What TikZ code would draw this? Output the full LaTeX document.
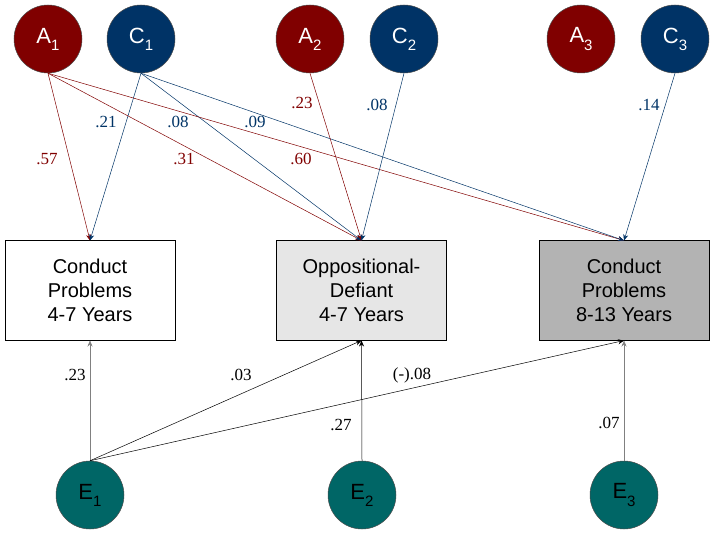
\documentclass[tikz,border=0pt]{standalone}
\usepackage{fontspec}
\setmainfont{Liberation Sans}
\newfontfamily\labfont{Liberation Serif}
\usetikzlibrary{arrows.meta}
\definecolor{ared}{HTML}{800000}
\definecolor{cblue}{HTML}{003366}
\definecolor{eteal}{HTML}{006666}
\definecolor{lgray}{HTML}{E6E6E6}
\definecolor{dgray}{HTML}{B3B3B3}
\newcommand{\subn}[1]{\raisebox{-0.32em}{\fontsize{15}{15}\selectfont #1}}
\begin{document}
\begin{tikzpicture}[x=1pt,y=-1pt,
  latent/.style={circle,draw=black!70,line width=0.5pt,minimum size=68pt,inner sep=0pt,font=\fontsize{22}{22}\selectfont},
  afac/.style={latent,fill=ared,text=white},
  cfac/.style={latent,fill=cblue,text=white},
  efac/.style={latent,fill=eteal,text=black},
  obs/.style={rectangle,draw=black,line width=1pt,minimum width=170pt,minimum height=99pt,inner sep=0pt,align=center,font=\fontsize{20}{24}\selectfont},
  path/.style={line width=0.5pt,-{Stealth[length=6pt,width=5pt]}},
  lab/.style={font=\labfont\fontsize{17}{17}\selectfont,inner sep=0pt}]
\useasboundingbox (0,0) rectangle (714,534);
\node[afac] (A1) at (48,39) {A\subn{1}};
\node[cfac] (C1) at (141,39) {C\subn{1}};
\node[afac] (A2) at (310,39) {A\subn{2}};
\node[cfac] (C2) at (404,39) {C\subn{2}};
\node[afac] (A3) at (581,39) {A\subn{3}};
\node[cfac] (C3) at (675,39) {C\subn{3}};
\node[obs] (B1) at (90,290.5) {Conduct\\Problems\\4-7 Years};
\node[obs,fill=lgray] (B2) at (361.5,290.5) {Oppositional-\\Defiant\\4-7 Years};
\node[obs,fill=dgray] (B3) at (624,290.5) {Conduct\\Problems\\8-13 Years};
\node[efac] (E1) at (90,495) {E\subn{1}};
\node[efac] (E2) at (362,495) {E\subn{2}};
\node[efac] (E3) at (624,495) {E\subn{3}};
% genetic / shared paths
\draw[path,ared] (A1.south) -- (B1.north);
\draw[path,cblue] (C1.south) -- (B1.north);
\draw[path,ared] (A1.south) -- (B2.north);
\draw[path,cblue] (C1.south) -- (B2.north);
\draw[path,ared] (A1.south) -- (B3.north);
\draw[path,cblue] (C1.south) -- (B3.north);
\draw[path,ared] (A2.south) -- (B2.north);
\draw[path,cblue] (C2.south) -- (B2.north);
\draw[path,cblue] (C3.south) -- (B3.north);
% environment paths
\draw[path,black!50] (E1.north) -- (B1.south);
\draw[path,black] (E1.north) -- (B2.south);
\draw[path,black] (E1.north) -- (B3.south);
\draw[path,black] (E2.north) -- (B2.south);
\draw[path,black!50] (E3.north) -- (B3.south);
% labels
\node[lab,text=ared] (l57) at (47,159) {.57};
\node[lab,text=cblue] (l21) at (106,122) {.21};
\node[lab,text=cblue] (l08a) at (178,122) {.08};
\node[lab,text=ared] (l31) at (184,159) {.31};
\node[lab,text=cblue] (l09) at (255,122) {.09};
\node[lab,text=ared] (l60) at (301,159) {.60};
\node[lab,text=ared] (l23a) at (302,103) {.23};
\node[lab,text=cblue] (l08b) at (377,105) {.08};
\node[lab,text=cblue] (l14) at (649,105) {.14};
\node[lab] (l23b) at (75,375) {.23};
\node[lab] (l03) at (241,375) {.03};
\node[lab] (l27) at (341,425) {.27};
\node[lab] (l08c) at (412,375) {(-).08};
\node[lab] (l07) at (609,423) {.07};
\end{tikzpicture}
\end{document}
